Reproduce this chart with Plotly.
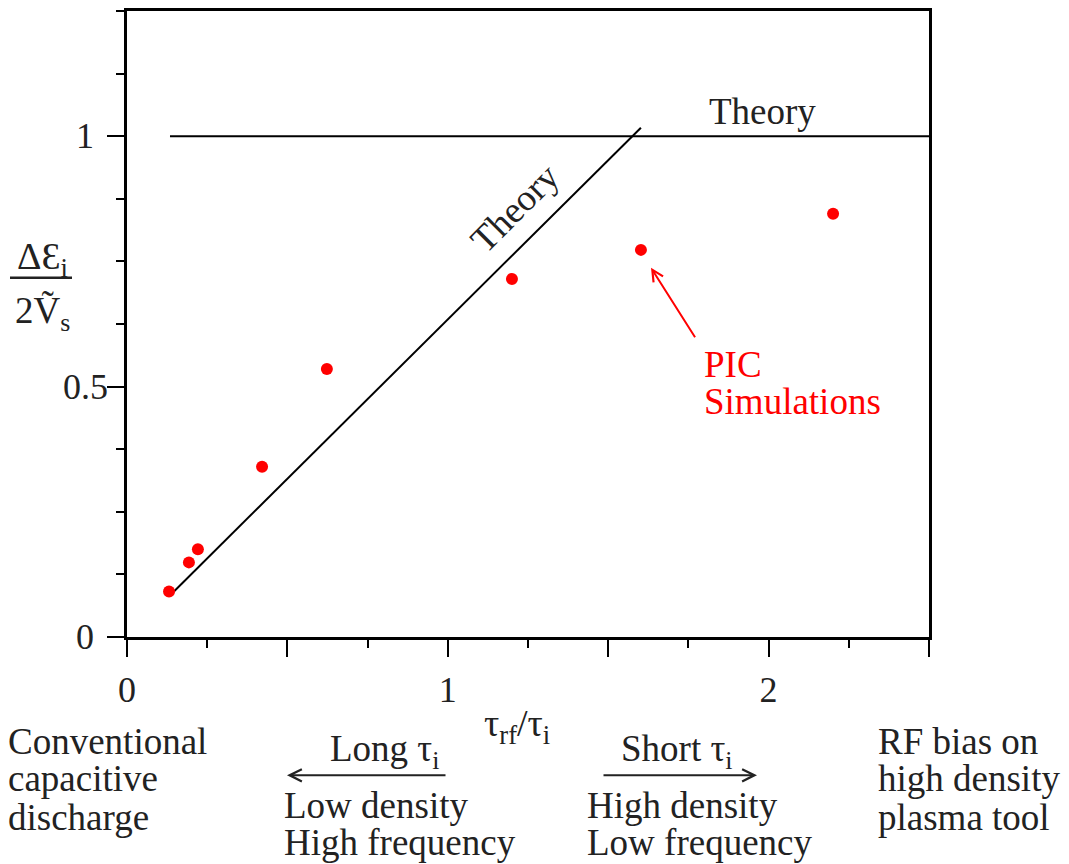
import plotly.graph_objects as go

# ---- data ----
pic_x = [0.131, 0.193, 0.221, 0.421, 0.623, 1.200, 1.602, 2.201]
pic_y = [0.091, 0.149, 0.175, 0.340, 0.535, 0.715, 0.773, 0.845]

theory_flat_x = [0.134, 2.5]
theory_flat_y = [1.0, 1.0]

theory_slope_x = [0.140, 1.602]
theory_slope_y = [0.087, 1.017]

x_major = [0, 0.5, 1, 1.5, 2, 2.5]
x_labels = ["0", "", "1", "", "2", ""]
y_major = [0, 0.25, 0.5, 0.75, 1.0, 1.25]
y_labels = ["0", "", "0.5", "", "1", ""]

FONT = "Liberation Serif"
W, H = 1069, 864
L, R, T, B = 127, 929, 8, 637
TXT = 37
TICK = 36


def px(x):
    return (x - L) / (R - L)


def py(y):
    return (B - y) / (B - T)


fig = go.Figure()
fig.add_trace(go.Scatter(x=theory_flat_x, y=theory_flat_y, mode="lines",
                         line=dict(color="black", width=2), showlegend=False))
fig.add_trace(go.Scatter(x=theory_slope_x, y=theory_slope_y, mode="lines",
                         line=dict(color="black", width=2), showlegend=False))
fig.add_trace(go.Scatter(x=pic_x, y=pic_y, mode="markers",
                         marker=dict(color="#ff0000", size=12), showlegend=False))

axis_common = dict(showline=True, linecolor="black", linewidth=2.5, mirror=True,
                   ticks="outside", ticklen=17, tickwidth=1.8, tickcolor="black",
                   showgrid=False, zeroline=False,
                   tickfont=dict(family=FONT, size=TICK, color="#222"))

fig.update_xaxes(range=[0, 2.5], tickmode="array", tickvals=x_major, ticktext=x_labels,
                 ticklabelstandoff=2,
                 minor=dict(ticks="outside", ticklen=8, tickwidth=1.8, tickcolor="black",
                            tick0=0, dtick=0.25),
                 **axis_common)
fig.update_yaxes(range=[0, 1.25], tickmode="array", tickvals=y_major, ticktext=y_labels,
                 showticklabels=False,
                 minor=dict(ticks="outside", ticklen=8, tickwidth=1.8, tickcolor="black",
                            tick0=0, dtick=0.125),
                 **axis_common)

ann = []

# y tick labels, centred as in the reference
for v, lab in zip(y_major, y_labels):
    if lab:
        ann.append(dict(text=lab, x=px(85), y=v, xref="paper", yref="y",
                        xanchor="center", yanchor="middle", showarrow=False,
                        font=dict(family=FONT, size=TICK, color="#222")))


def text(t, x, y, size=TXT, color="#222", xanchor="center", angle=0):
    ann.append(dict(text=t, x=px(x), y=py(y), xref="paper", yref="paper",
                    xanchor=xanchor, yanchor="middle", showarrow=False, textangle=angle,
                    font=dict(family=FONT, size=size, color=color)))


def arrow(x0, y0, x1, y1, color="#222", width=2, size=1.2):
    # tail (x0,y0) -> head (x1,y1) in pixels
    ann.append(dict(text="", x=px(x1), y=py(y1), xref="paper", yref="paper",
                    ax=x0 - x1, ay=y0 - y1, showarrow=True, arrowhead=5,
                    arrowsize=size, arrowwidth=width, arrowcolor=color))


# in-plot labels
text("Theory", 762, 109)
text("Theory", 514, 206, angle=-45)
text("PIC", 702, 363, color="#ff0000", xanchor="left")
text("Simulations", 702, 400, color="#ff0000", xanchor="left")
arrow(696, 337, 651, 266, color="#ff0000", width=2, size=1.1)

# y-axis label as fraction
text("ΔƐ<sub>i</sub>", 42, 257, size=38)
text("2Ṽ<sub>s</sub>", 42, 312, size=37)

# x-axis title
text("τ<sub>rf</sub>/τ<sub>i</sub>", 517, 726, size=38)

# bottom annotations
for t, y in zip(["Conventional", "capacitive", "discharge"], [742, 779, 818]):
    text(t, 6, y, xanchor="left")
for t, y in zip(["RF bias on", "high density", "plasma tool"], [742, 779, 818]):
    text(t, 876, y, xanchor="left")
text("Long τ<sub>i</sub>", 384, 752)
arrow(447, 776, 287, 776)
text("Low density", 282, 806, xanchor="left")
text("High frequency", 282, 843, xanchor="left")
text("Short τ<sub>i</sub>", 677, 752)
arrow(602, 776, 757, 776)
text("High density", 585, 806, xanchor="left")
text("Low frequency", 585, 843, xanchor="left")

fig.update_layout(
    width=W, height=H,
    margin=dict(l=L, r=W - R, t=T, b=H - B),
    paper_bgcolor="white", plot_bgcolor="white",
    annotations=ann,
    shapes=[dict(type="line", xref="paper", yref="paper",
                 x0=px(10), x1=px(72), y0=py(276), y1=py(276),
                 line=dict(color="#222", width=2.5))],
    font=dict(family=FONT),
)

fig.write_html("out.html")
